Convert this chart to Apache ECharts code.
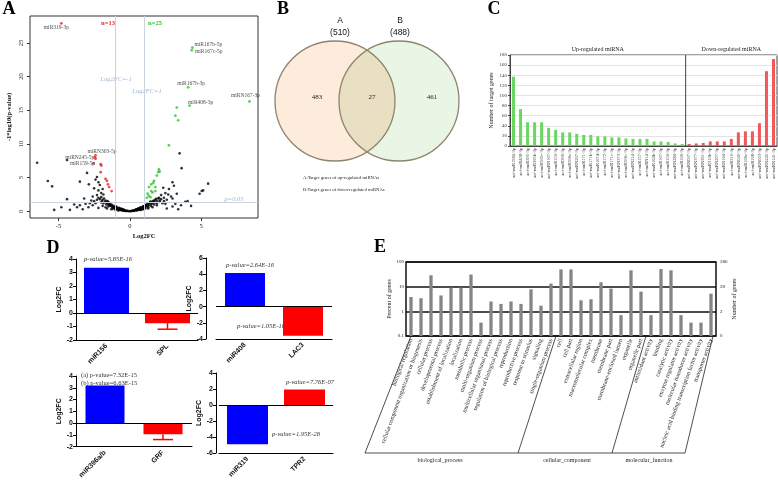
<!DOCTYPE html>
<html>
<head>
<meta charset="utf-8">
<script src="https://cdn.jsdelivr.net/npm/echarts@6/dist/echarts.min.js"></script>
<style>
  html, body { margin: 0; padding: 0; background: #fff; }
  #main { width: 778px; height: 481px; }
</style>
</head>
<body>
<div id="main"></div>
<script>
// ---------- A: volcano plot ----------
const volcanoBlack = [
  [-6.5,7.2],[-5.75,4.5],[-5.45,3.7],[-4.4,7.6],[-4.4,1.8],[-3.5,4.4],[-3.0,5.7],[-2.87,4.0],[-2.4,4.7],[-2.3,5.1],
  [-2.2,4.3],[-2.1,3.9],[-2.5,3.4],[-2.2,3.1],[-1.9,3.3],[-2.0,2.7],[-1.85,2.5],[-2.3,2.4],[-2.6,2.2],[-3.2,1.9],
  [-2.7,1.6],[-3.9,1.0],[-3.5,0.9],[-2.9,0.6],[-4.8,0.6],[-3.3,0.3],[-5.3,0.2],[-4.2,0.2],[-2.6,0.9],[-2.4,1.2],
  [-2.2,0.5],[-2.0,2.1],[-1.9,1.7],[-1.8,1.9],[-1.75,1.4],[-1.7,1.6],[-1.6,1.2],[-1.55,1.5],[-1.5,1.0],[-1.45,1.3],
  [-1.4,1.1],[-1.35,0.8],[-1.3,1.0],[-1.25,0.9],[-1.2,0.6],[-1.15,0.8],[-1.1,0.7],[-1.05,0.5],[-1.0,0.6],[-0.95,0.4],
  [-0.9,0.55],[-0.85,0.3],[-0.8,0.45],[-0.75,0.25],[-0.7,0.4],[-0.65,0.2],[-0.6,0.3],[-0.55,0.15],[-0.5,0.25],[-0.45,0.1],
  [-0.4,0.18],[-0.35,0.08],[-0.3,0.12],[-0.25,0.05],[-0.2,0.08],[-0.15,0.03],[-0.1,0.04],[-0.05,0.01],[-1.6,0.4],[-1.3,0.3],
  [-1.0,0.2],[-0.8,0.1],[-1.9,0.8],[-1.7,0.6],[-2.0,1.3],[-1.5,0.7],[-1.2,0.35],[0.05,0.02],[0.1,0.05],[0.15,0.04],
  [0.2,0.1],[0.25,0.07],[0.3,0.15],[0.35,0.1],[0.4,0.22],[0.45,0.15],[0.5,0.3],[0.55,0.2],[0.6,0.38],[0.65,0.25],
  [0.7,0.45],[0.75,0.3],[0.8,0.55],[0.85,0.4],[0.9,0.65],[0.95,0.5],[1.0,0.75],[1.05,0.6],[1.1,0.9],[1.15,0.7],
  [1.2,1.0],[1.25,0.8],[1.3,1.15],[1.35,0.9],[1.4,1.3],[1.5,1.1],[1.55,1.4],[1.6,1.2],[1.7,1.6],[1.75,1.3],
  [1.8,1.7],[1.9,1.5],[2.0,1.9],[2.1,1.6],[2.2,1.8],[1.0,0.3],[1.3,0.4],[1.6,0.6],[0.8,0.2],[1.9,0.9],
  [2.3,1.2],[3.5,8.6],[3.64,6.4],[5.5,4.1],[5.15,3.1],[5.05,3.0],[4.9,2.6],[3.1,3.8],[2.75,3.3],[2.35,3.5],
  [3.0,4.3],[2.5,2.7],[2.2,2.4],[2.7,2.5],[4.06,1.5],[3.9,1.4],[3.0,1.9],[2.6,1.7],[3.0,0.7],[2.6,0.4],
  [3.4,0.3],[2.4,2.0],
  [-1.85,1.2],[-1.65,1.0],[-1.45,0.9],[-1.25,0.7],[-1.05,0.45],[-0.9,0.3],[-0.7,0.2],[-0.5,0.1],[-0.3,0.05],[0.3,0.05],
  [0.5,0.12],[0.7,0.2],[0.9,0.3],[1.1,0.45],[1.3,0.6],[1.5,0.8],[1.7,1.0],[1.9,1.2],[2.1,1.4],[-2.1,1.8],
  [-1.95,1.5],[-1.6,1.4],[-1.4,0.95],[-1.1,0.55],[-0.95,0.7],[-0.75,0.5],[-0.6,0.42],[-0.45,0.3],[0.45,0.28],[0.6,0.45],
  [0.75,0.6],[0.95,0.75],[1.15,0.95],[1.35,1.2],[1.45,1.45],[1.65,1.5],[1.85,1.85],[2.05,2.0],[2.4,1.5],[2.5,1.1],
  [-2.5,1.5],[-2.3,1.7],[-2.2,2.0],[-2.8,1.2],[-3.1,1.1],[-3.7,0.6],[3.2,1.1],[3.6,0.9],[4.3,0.8],[2.9,2.2],
  [3.3,2.6]
];
const volcanoRed = [
  [-4.8,27.9],[-2.4,8.3],[-2.45,8.0],[-2.4,7.8],[-2.04,7.0],[-2.0,6.8],[-2.54,7.1],[-2.04,5.8],[-1.7,4.8],[-1.6,4.5],
  [-1.53,4.0],[-1.45,3.6],[-1.27,3.0]
];
const volcanoGreen = [
  [4.4,24.3],[4.35,23.9],[4.1,18.4],[4.2,15.7],[8.4,16.3],[3.3,15.4],[3.2,14.2],[3.4,13.5],[2.75,9.8],[2.05,6.2],
  [2.0,5.8],[1.9,5.3],[1.7,4.5],[1.65,4.2],[1.35,3.6],[1.8,3.6],[1.5,3.0],[1.8,3.0],[1.34,2.3],[1.25,2.6],
  [1.5,4.0],[2.1,5.9],[1.6,2.8],[1.2,2.0],[1.45,2.1]
];
const volcanoLabelNames = ['miR319-3p','miR167b-5p','miR167c-5p','miR167b-3p','miR408-3p','miRN167-3p','miRN303-5p','miRN245-5p','miR159-5p'];
const volcanoLabelX = [-4.8, 4.4, 4.35, 4.1, 4.2, 8.4, -2.4, -2.45, -2.54];
const volcanoLabelY = [27.9, 24.3, 23.9, 18.4, 15.7, 16.3, 8.3, 8.0, 7.1];
const volcanoXTicks = [-5, 0, 5];
const volcanoYTicks = [0, 5, 10, 15, 20, 25];
const fcCut = [-1, 1];
const pCut = 1.3; // -log10(0.05)

// ---------- B: venn ----------
const vennTotals = [510, 488];
const vennCounts = [483, 27, 461];

// ---------- C: target gene counts ----------
const upNames = ['aof-miR1584-3p','aof-miR408-3p','aof-miR395-3p','aof-miR395b-3p','aof-miR395c-3p','aof-miRN167-3p',
  'aof-miR159-3p','aof-miR396-3p','aof-miR396e-3p','aof-miRN267-3p','aof-miR171-3p','aof-miR171b-3p','aof-miR167d-3p',
  'aof-miR172-3p','aof-miR171c-3p','aof-miRN373-3p','aof-miR396c-3p','aof-miRN214-3p','aof-miR157-3p','aof-miRN14-3p',
  'aof-miR164b-3p','aof-miR167-3p','aof-miR156-3p','aof-miRN284-3p','aof-miR166-3p'];
const upCounts = [137, 73, 47, 47, 47, 36, 32, 27, 27, 24, 22, 22, 19, 19, 17, 17, 15, 14, 14, 14, 9, 9, 8, 5, 4];
const downNames = ['aof-miRN097-3p','aof-miRN377-3p','aof-miRN301-3p','aof-miR319b-3p','aof-miRN207-3p','aof-miRN164-3p',
  'aof-miR319-3p','aof-miRN040-3p','aof-miR166e-3p','aof-miR168-3p','aof-miRN003-3p','aof-miRN245-3p','aof-miRN141-3p'];
const downCounts = [4, 5, 6, 9, 9, 9, 14, 27, 29, 29, 45, 148, 172];

// ---------- D: qPCR style bars ----------
const d1Names = ['miR156', 'SPL'],    d1Values = [3.35, -0.75], d1Err = [0, 0.45];
const d2Names = ['miR408', 'LAC3'],   d2Values = [4.15, -3.6],  d2Err = [0, 0];
const d3Names = ['miR396a/b', 'GRF'], d3Values = [3.2, -0.95],  d3Err = [0, 0.45];
const d4Names = ['miR319', 'TPR2'],   d4Values = [-4.9, 1.95],  d4Err = [0, 0];

// ---------- E: GO classification ----------
const goTerms = ['biological regulation','cellular component organization or biogenesis','cellular process',
  'developmental process','establishment of localization','localization','metabolic process','multi-organism process',
  'multicellular organismal process','regulation of biological process','reproduction','reproductive process',
  'response to stimulus','signaling','single-organism process',
  'cell','cell part','extracellular region','macromolecular complex','membrane','membrane part',
  'membrane-enclosed lumen','organelle','organelle part',
  'antioxidant activity','binding','catalytic activity','enzyme regulator activity','molecular transducer activity',
  'nucleic acid binding transcription factor activity','transporter activity'];
const goPercent = [3.8, 3.4, 29, 4.4, 9.1, 9.1, 31, 0.35, 2.5, 2.0, 2.5, 2.0, 7.8, 1.7, 13.3,
  50, 50, 2.8, 3.1, 15, 8.3, 0.7, 46, 6.3,
  0.7, 52, 46, 0.7, 0.35, 0.35, 5.2];
const goGroups = ['biological_process', 'cellular_component', 'molecular_function'];
const goGroupSizes = [15, 9, 7];
const goRightTicks = { 100: '286', 10: '28', 1: '2', 0.1: '0' };

const SERIF = 'Liberation Serif';
const SANS = 'Liberation Sans';
const chart = echarts.init(document.getElementById('main'));

const cNames = upNames.concat(downNames);
const cData = upCounts.map(v => ({ value: v, itemStyle: { color: '#6ad860' } }))
  .concat(downCounts.map(v => ({ value: v, itemStyle: { color: '#f0585a' } })));

function dAxisX(idx, names) {
  return {
    type: 'category', gridIndex: idx, data: names,
    axisLine: { onZero: false, lineStyle: { color: '#000', width: 1 } },
    axisTick: { show: false },
    axisLabel: { rotate: 45, interval: 0, fontFamily: SANS, fontWeight: 'bold', fontSize: 7, color: '#111', margin: 5 }
  };
}
function dAxisY(idx, min, max, step, offset) {
  return {
    type: 'value', gridIndex: idx, min: min, max: max, interval: step, offset: offset || 0,
    name: 'Log2FC', nameLocation: 'middle', nameGap: 13,
    nameTextStyle: { fontFamily: SANS, fontWeight: 'bold', fontSize: 7, color: '#111' },
    axisLine: { show: true, onZero: false, lineStyle: { color: '#000', width: 1 } },
    axisTick: { show: true, length: 3, lineStyle: { color: '#000' } },
    axisLabel: { fontFamily: SANS, fontWeight: 'bold', fontSize: 7, color: '#111', margin: 3 },
    splitLine: { show: false }
  };
}
function dBars(idx, values, barWidth) {
  return {
    type: 'bar', xAxisIndex: idx, yAxisIndex: idx, barWidth: barWidth,
    data: values.map((v, i) => ({ value: v, itemStyle: { color: i === 0 ? '#0000ff' : '#ff0000' } })),
    markLine: { silent: true, symbol: 'none', label: { show: false },
      lineStyle: { color: '#000', width: 1, type: 'solid' }, data: [{ yAxis: 0 }] }
  };
}
function dErrors(idx, values, errs) {
  const data = [];
  values.forEach((v, i) => { if (errs[i]) data.push([i, v, v - errs[i]]); });
  return {
    type: 'custom', xAxisIndex: idx, yAxisIndex: idx, data: data, z: 5,
    renderItem: function (params, api) {
      const a = api.coord([api.value(0), api.value(1)]);
      const b = api.coord([api.value(0), api.value(2)]);
      const st = { stroke: '#ff0000', lineWidth: 1.5 };
      return { type: 'group', children: [
        { type: 'line', shape: { x1: a[0], y1: a[1], x2: b[0], y2: b[1] }, style: st },
        { type: 'line', shape: { x1: b[0] - 10, y1: b[1], x2: b[0] + 10, y2: b[1] }, style: st }
      ] };
    }
  };
}

// label offsets for the named volcano points
const labelOffsets = [[-5, 4.5], [16, -3], [17, 1], [3, -4], [11, -3], [-4, -6], [6.5, -3.5], [-15, 0], [-11, 0.5]];

const option = {
  animation: false,
  grid: [
    { left: 30, top: 16, width: 228, height: 202, show: true, borderColor: '#333', borderWidth: 1 },
    { left: 510, top: 55, width: 267, height: 91, show: true, borderColor: '#444', borderWidth: 1 },
    { left: 76, top: 259, width: 122, height: 81 },
    { left: 216, top: 258, width: 116, height: 81 },
    { left: 76, top: 376, width: 116, height: 77 },
    { left: 219, top: 373, width: 114, height: 80 },
    { left: 406, top: 262, width: 310, height: 74, show: true, borderColor: '#111', borderWidth: 1.5 }
  ],
  xAxis: [
    {
      type: 'value', gridIndex: 0, min: -7, max: 9,
      name: 'Log2FC', nameLocation: 'middle', nameGap: 15,
      nameTextStyle: { fontFamily: SERIF, fontWeight: 'bold', fontSize: 6.5, color: '#111' },
      axisLine: { show: false, onZero: false },
      axisTick: { show: true, length: 3, customValues: volcanoXTicks, lineStyle: { color: '#333' } },
      axisLabel: { customValues: volcanoXTicks, fontFamily: SERIF, fontSize: 6.5, color: '#222', margin: 5 },
      splitLine: { show: false }
    },
    {
      type: 'category', gridIndex: 1, data: cNames,
      axisLine: { lineStyle: { color: '#444' } }, axisTick: { show: false },
      axisLabel: { rotate: 90, interval: 0, fontFamily: SERIF, fontSize: 4.5, color: '#333', margin: 2 }
    },
    dAxisX(2, d1Names), dAxisX(3, d2Names), dAxisX(4, d3Names), dAxisX(5, d4Names),
    {
      type: 'category', gridIndex: 6, data: goTerms,
      axisLine: { show: false }, axisTick: { show: false },
      axisLabel: { rotate: 70, interval: 0, fontFamily: SERIF, fontSize: 6, color: '#222', margin: 3 }
    }
  ],
  yAxis: [
    {
      type: 'value', gridIndex: 0, min: -1, max: 29,
      name: '-1*log10(p-value)', nameLocation: 'middle', nameGap: 17,
      nameTextStyle: { fontFamily: SERIF, fontWeight: 'bold', fontSize: 6.5, color: '#111' },
      axisLine: { show: false, onZero: false },
      axisTick: { show: true, length: 3, customValues: volcanoYTicks, lineStyle: { color: '#333' } },
      axisLabel: { customValues: volcanoYTicks, rotate: 90, fontFamily: SERIF, fontSize: 6.5, color: '#222', margin: 5 },
      splitLine: { show: false }
    },
    {
      type: 'value', gridIndex: 1, min: 0, max: 180, interval: 20,
      name: 'Number of target genes', nameLocation: 'middle', nameGap: 16,
      nameTextStyle: { fontFamily: SERIF, fontSize: 6, color: '#222' },
      axisLine: { show: true, lineStyle: { color: '#444' } },
      axisTick: { show: true, length: 2, lineStyle: { color: '#444' } },
      axisLabel: { fontFamily: SERIF, fontSize: 5, color: '#333', margin: 3 },
      splitLine: { show: true, lineStyle: { color: '#e3e3e3', width: 1 } }
    },
    dAxisY(2, -2, 4, 1), dAxisY(3, -4, 6, 2, 10), dAxisY(4, -2, 4, 1), dAxisY(5, -6, 4, 2, 3),
    {
      type: 'log', logBase: 10, gridIndex: 6, min: 0.1, max: 100,
      name: 'Percent of genes', nameLocation: 'middle', nameGap: 14,
      nameTextStyle: { fontFamily: SERIF, fontSize: 6, color: '#222' },
      axisLine: { show: false }, axisTick: { show: false },
      axisLabel: { fontFamily: SERIF, fontSize: 5, color: '#222', margin: 2 },
      splitLine: { show: true, lineStyle: { color: '#111', width: 1.5 } }
    },
    {
      type: 'log', logBase: 10, gridIndex: 6, min: 0.1, max: 100, position: 'right',
      name: 'Number of genes', nameLocation: 'middle', nameGap: 14,
      nameTextStyle: { fontFamily: SERIF, fontSize: 6, color: '#222' },
      axisLine: { show: false }, axisTick: { show: false },
      axisLabel: { fontFamily: SERIF, fontSize: 5, color: '#222', margin: 4,
        formatter: v => goRightTicks[v] !== undefined ? goRightTicks[v] : '' },
      splitLine: { show: false }
    }
  ],
  series: [
    {
      type: 'scatter', xAxisIndex: 0, yAxisIndex: 0, symbolSize: 2.6,
      itemStyle: { color: '#000' }, data: volcanoBlack,
      markLine: {
        silent: true, symbol: 'none', label: { show: false },
        lineStyle: { color: '#c9d3df', width: 1, type: 'solid' },
        data: [{ xAxis: fcCut[0] }, { xAxis: fcCut[1] }, { yAxis: pCut }]
      }
    },
    { type: 'scatter', xAxisIndex: 0, yAxisIndex: 0, symbolSize: 2.8, itemStyle: { color: '#e8262b' }, data: volcanoRed },
    { type: 'scatter', xAxisIndex: 0, yAxisIndex: 0, symbolSize: 2.8, itemStyle: { color: '#2fc42f' }, data: volcanoGreen },
    {
      type: 'scatter', xAxisIndex: 0, yAxisIndex: 0, symbolSize: 0, silent: true,
      data: volcanoLabelNames.map((n, i) => ({
        name: n, value: [volcanoLabelX[i], volcanoLabelY[i]],
        label: { show: true, formatter: n, position: 'inside', offset: labelOffsets[i],
          fontFamily: SERIF, fontSize: 5.5, color: '#222' }
      }))
    },
    { type: 'bar', xAxisIndex: 1, yAxisIndex: 1, barWidth: 3, data: cData },
    dBars(2, d1Values, 45), dErrors(2, d1Values, d1Err),
    dBars(3, d2Values, 40), dErrors(3, d2Values, d2Err),
    dBars(4, d3Values, 39), dErrors(4, d3Values, d3Err),
    dBars(5, d4Values, 41), dErrors(5, d4Values, d4Err),
    {
      // GO bars rise from the bottom of the log axis (0.1), not from 1
      type: 'custom', xAxisIndex: 6, yAxisIndex: 6,
      data: goPercent.map((v, i) => [i, v]),
      renderItem: function (params, api) {
        const top = api.coord([api.value(0), api.value(1)]);
        const bot = api.coord([api.value(0), 0.1]);
        const w = 3.3;
        return { type: 'rect', shape: { x: top[0] - w / 2, y: top[1], width: w, height: bot[1] - top[1] },
          style: { fill: '#858585' } };
      }
    }
  ]
};
chart.setOption(option);

// ---------- annotations (need pixel positions from the axes) ----------
const g = [];
function txt(x, y, s, style) {
  g.push({ type: 'text', x: x, y: y, silent: true,
    style: Object.assign({ text: s, fontFamily: SERIF, fontSize: 6, fill: '#222', align: 'center', verticalAlign: 'middle' }, style || {}) });
}
function line(x1, y1, x2, y2, stroke, w) {
  g.push({ type: 'line', silent: true, shape: { x1, y1, x2, y2 }, style: { stroke: stroke || '#222', lineWidth: w || 1 } });
}
// panel letters
[['A', 9, 9], ['B', 283, 9], ['C', 494, 9], ['D', 53, 248], ['E', 380, 247]].forEach(p =>
  txt(p[1], p[2], p[0], { fontSize: 18, fontWeight: 'bold', fill: '#000' }));

// A annotations
txt(108, 23, 'n=' + volcanoRed.length, { fontWeight: 'bold', fill: '#e8262b', fontSize: 6.5 });
txt(155, 23, 'n=' + volcanoGreen.length, { fontWeight: 'bold', fill: '#2fc42f', fontSize: 6.5 });
txt(116, 79, 'Log2FC=' + fcCut[0], { fontStyle: 'italic', fill: '#9bb6d6', fontSize: 6.5 });
txt(147, 91, 'Log2FC=' + fcCut[1], { fontStyle: 'italic', fill: '#9bb6d6', fontSize: 6.5 });
txt(234, 199, 'p=0.05', { fontStyle: 'italic', fill: '#9bb6d6', fontSize: 6.5 });

// B venn
const ca = [335, 101], cb = [399, 101], r = 60;
g.push({ type: 'circle', silent: true, shape: { cx: ca[0], cy: ca[1], r: r }, style: { fill: '#fdecdc' } });
g.push({ type: 'circle', silent: true, shape: { cx: cb[0], cy: cb[1], r: r }, style: { fill: '#e9f6e6' } });
// lens (overlap) outline sampled from both arcs
const th = Math.acos(((cb[0] - ca[0]) / 2) / r);
const lens = [];
for (let k = 0; k <= 24; k++) {
  const a = -th + 2 * th * k / 24;
  lens.push([ca[0] + r * Math.cos(a), ca[1] + r * Math.sin(a)]);
}
for (let k = 0; k <= 24; k++) {
  const a = Math.PI - th + 2 * th * k / 24;
  lens.push([cb[0] + r * Math.cos(a), cb[1] + r * Math.sin(a)]);
}
g.push({ type: 'polygon', silent: true, shape: { points: lens }, style: { fill: '#e9dfc3' } });
g.push({ type: 'circle', silent: true, shape: { cx: ca[0], cy: ca[1], r: r }, style: { fill: 'none', stroke: '#8d846f', lineWidth: 1.3 } });
g.push({ type: 'circle', silent: true, shape: { cx: cb[0], cy: cb[1], r: r }, style: { fill: 'none', stroke: '#8d846f', lineWidth: 1.3 } });
txt(340, 21, 'A', { fontFamily: SANS, fontSize: 8.5, fill: '#111' });
txt(340, 33, '(' + vennTotals[0] + ')', { fontFamily: SANS, fontSize: 8.5, fill: '#111' });
txt(400, 21, 'B', { fontFamily: SANS, fontSize: 8.5, fill: '#111' });
txt(400, 33, '(' + vennTotals[1] + ')', { fontFamily: SANS, fontSize: 8.5, fill: '#111' });
txt(317, 97, String(vennCounts[0]), { fontSize: 7 });
txt(372, 97, String(vennCounts[1]), { fontSize: 7 });
txt(432, 97, String(vennCounts[2]), { fontSize: 7 });
txt(303, 178, 'A:Target genes of up-regulated miRNAs', { align: 'left', fontSize: 4.7 });
txt(303, 190, 'B:Target genes of down-regulated miRNAs', { align: 'left', fontSize: 4.7 });

// C group divider + titles
const cx = i => chart.convertToPixel({ xAxisIndex: 1 }, i);
const cTop = chart.convertToPixel({ yAxisIndex: 1 }, 180), cBot = chart.convertToPixel({ yAxisIndex: 1 }, 0);
const nUp = upNames.length, nAll = cNames.length;
const divX = (cx(nUp - 1) + cx(nUp)) / 2;
line(divX, cTop, divX, cBot, '#444', 1);
txt((cx(0) + cx(nUp - 1)) / 2, 49, 'Up-regulated miRNA', { fontSize: 6 });
txt((cx(nUp) + cx(nAll - 1)) / 2, 49, 'Down-regulated miRNA', { fontSize: 6 });

// D p-values
const pv = { fontStyle: 'italic', fontSize: 6.5, fill: '#333' };
txt(108, 259, 'p-value=5.85E-16', pv);
txt(250, 265, 'p-value=2.64E-16', pv);
txt(261, 326, 'p-value=1.05E-16', pv);
txt(81, 375, '(a) p-value=7.32E-15', { align: 'left', fontSize: 6.5, fill: '#333' });
txt(81, 383, '(b) p-value=6.63E-15', { align: 'left', fontSize: 6.5, fill: '#333' });
txt(286, 382, 'p-value=7.76E-07', Object.assign({ align: 'left' }, pv));
txt(272, 434, 'p-value=1.95E-28', Object.assign({ align: 'left' }, pv));

// E group brackets
const ex = i => chart.convertToPixel({ xAxisIndex: 6 }, i);
const eBot = chart.convertToPixel({ yAxisIndex: 6 }, 0.1);
const baseY = 453;
const b1 = goGroupSizes[0], b2 = goGroupSizes[0] + goGroupSizes[1], nGo = goTerms.length;
const tops = [ex(0), (ex(b1 - 1) + ex(b1)) / 2, (ex(b2 - 1) + ex(b2)) / 2, ex(nGo - 1) + 2];
const slants = [46, 38, 34, 28];
const bots = tops.map((t, i) => t - slants[i]);
tops.forEach((t, i) => line(t, eBot, bots[i], baseY, '#222', 0.8));
line(bots[0], baseY, bots[3], baseY, '#222', 0.8);
const gx = [440, 567, 649];
goGroups.forEach((s, i) => txt(gx[i], 460, s, { fontSize: 6 }));

chart.setOption({ graphic: g });
</script>
</body>
</html>
